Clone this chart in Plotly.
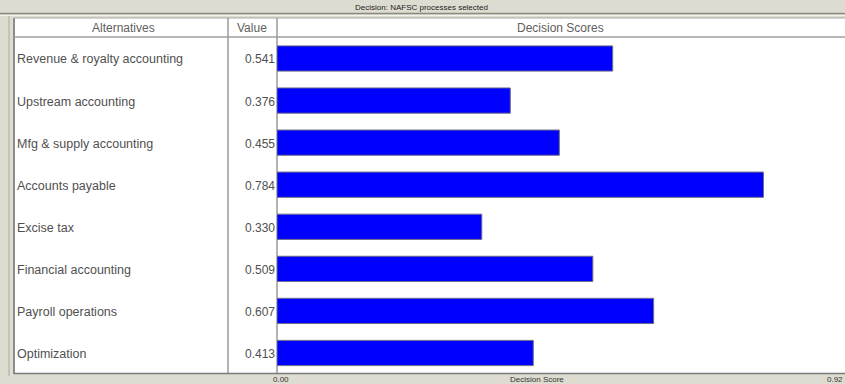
import plotly.graph_objects as go

alternatives = [
    "Revenue & royalty accounting",
    "Upstream accounting",
    "Mfg & supply accounting",
    "Accounts payable",
    "Excise tax",
    "Financial accounting",
    "Payroll operations",
    "Optimization",
]
scores = [0.541, 0.376, 0.455, 0.784, 0.330, 0.509, 0.607, 0.413]
axis_min_label = "0.00"
axis_max_label = "0.92"
axis_title = "Decision Score"
window_title = "Decision: NAFSC processes selected"
headers = ["Alternatives", "Value", "Decision Scores"]

W, H = 845, 384


def px(x):
    return x / W


def py(y):
    return 1 - y / H


FONT = "Liberation Sans, Arial, sans-serif"
BG = "#dedcd0"
GRID = "#9a9a9a"
TEXT = "#505050"

fig = go.Figure()
fig.add_trace(go.Bar(
    x=scores,
    y=alternatives,
    orientation="h",
    width=0.6,
    marker=dict(color="#0000ff", line=dict(color="#6e6e8a", width=1)),
    hoverinfo="x+y",
))

shapes = []
# window title strip
shapes.append(dict(type="line", xref="paper", yref="paper", x0=0, x1=1, y0=py(13.5), y1=py(13.5),
                   line=dict(color="#8a8a80", width=1.5), layer="below"))
shapes.append(dict(type="line", xref="paper", yref="paper", x0=0, x1=1, y0=py(15.5), y1=py(15.5),
                   line=dict(color="#f4f4ee", width=1), layer="below"))
# left edge of the panel
shapes.append(dict(type="line", xref="paper", yref="paper", x0=px(9), x1=px(9), y0=py(376), y1=py(16),
                   line=dict(color="#c4c3b8", width=2), layer="below"))
# white table body
shapes.append(dict(type="rect", xref="paper", yref="paper", x0=px(14), x1=1, y0=py(373), y1=py(18),
                   fillcolor="white", line=dict(width=0), layer="below"))
# table frame
shapes.append(dict(type="line", xref="paper", yref="paper", x0=px(14), x1=px(14), y0=py(374), y1=py(18),
                   line=dict(color="#8c8c8c", width=2), layer="below"))
shapes.append(dict(type="line", xref="paper", yref="paper", x0=px(14), x1=1, y0=py(18), y1=py(18),
                   line=dict(color="#a8a8a8", width=1), layer="below"))
shapes.append(dict(type="line", xref="paper", yref="paper", x0=px(14), x1=1, y0=py(37), y1=py(37),
                   line=dict(color="#a0a0a0", width=1.5), layer="below"))
shapes.append(dict(type="line", xref="paper", yref="paper", x0=px(14), x1=1, y0=py(373.5), y1=py(373.5),
                   line=dict(color="#7a7a7a", width=1.5), layer="below"))
# column dividers
for xc in (228, 277):
    shapes.append(dict(type="line", xref="paper", yref="paper", x0=px(xc), x1=px(xc), y0=py(373), y1=py(18),
                       line=dict(color=GRID, width=1.5), layer="below"))

annotations = []
annotations.append(dict(text=window_title, x=px(421), y=py(7.5), xref="paper", yref="paper",
                        xanchor="center", yanchor="middle",
                        showarrow=False, font=dict(family=FONT, size=8, color="#222")))
header_x = [124, 252, 560]
for h, xh in zip(headers, header_x):
    annotations.append(dict(text=h, x=px(xh), y=py(27.5), xref="paper", yref="paper",
                            xanchor="center", yanchor="middle",
                            showarrow=False, font=dict(family=FONT, size=12, color="#606060")))
for name, val in zip(alternatives, scores):
    annotations.append(dict(text=name, x=px(15), y=name, xref="paper", yref="y",
                            xanchor="left", yanchor="middle", yshift=-1,
                            showarrow=False, font=dict(family=FONT, size=12.5, color=TEXT)))
    annotations.append(dict(text=f"{val:.3f}", x=px(277), y=name, xref="paper", yref="y",
                            xanchor="right", yanchor="middle", yshift=-1,
                            showarrow=False, font=dict(family=FONT, size=12, color=TEXT)))
annotations.append(dict(text=axis_min_label, x=px(281), y=py(379.5), xref="paper", yref="paper",
                        xanchor="center", yanchor="middle",
                        showarrow=False, font=dict(family=FONT, size=8, color="#333")))
annotations.append(dict(text=axis_title, x=px(537), y=py(379.5), xref="paper", yref="paper",
                        xanchor="center", yanchor="middle",
                        showarrow=False, font=dict(family=FONT, size=8, color="#333")))
annotations.append(dict(text=axis_max_label, x=1, y=py(379.5), xref="paper", yref="paper",
                        xanchor="right", yanchor="middle",
                        showarrow=False, font=dict(family=FONT, size=8, color="#333")))

row_px = 42.07
fig.update_layout(
    width=W, height=H,
    margin=dict(l=0, r=0, t=0, b=0),
    paper_bgcolor=BG,
    plot_bgcolor="rgba(0,0,0,0)",
    showlegend=False,
    shapes=shapes,
    annotations=annotations,
    xaxis=dict(domain=[px(277), 1], range=[0, (W - 277) / 620.5], visible=False, fixedrange=True),
    yaxis=dict(domain=[py(373), py(37)], visible=False, fixedrange=True,
               categoryorder="array", categoryarray=alternatives,
               range=[7 + (373 - 353) / row_px, -(58.5 - 37) / row_px]),
)

fig.write_html("out.html")
